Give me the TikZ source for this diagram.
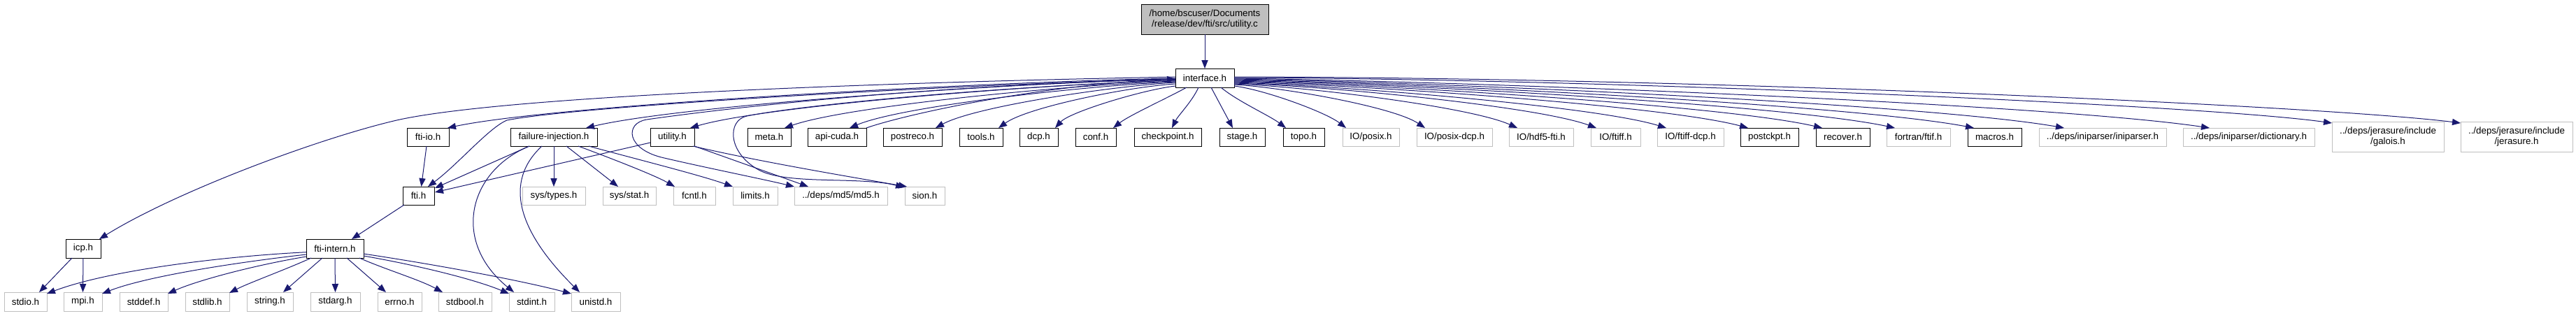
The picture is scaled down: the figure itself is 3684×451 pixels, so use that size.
\documentclass[tikz,border=0pt]{standalone}
\usepackage{fontspec}
\setmainfont{Liberation Sans}
\usetikzlibrary{calc,arrows.meta}
\definecolor{edgec}{HTML}{191970}
\definecolor{gline}{HTML}{BFBFBF}
\definecolor{gfill}{HTML}{BFBFBF}
\tikzset{
  lbl/.style={font=\fontsize{6.67pt}{7.9pt}\selectfont, align=center, inner sep=0pt, outer sep=0pt},
  box/.style={lbl, draw=black, fill=white, line width=0.5pt},
  gbox/.style={lbl, draw=gline, fill=white, line width=0.5pt},
  topbox/.style={lbl, draw=black, fill=gfill, line width=0.5pt},
  dep/.style={draw=edgec, line width=0.5pt, -{Triangle[length=6pt,width=4.6pt]}},
}
\newcommand\nd[7]{\node[#6, minimum width={(#3-#2)*0.5pt}, minimum height={(#5-#4)*0.5pt}] (#1) at ({(#2+#3)/2},{(#4+#5)/2}) {#7};}
\begin{document}
\begin{tikzpicture}[x=0.5pt,y=-0.5pt]
\useasboundingbox (0,0) rectangle (3684,451);
% ---------- nodes ----------
\nd{utilc}{1632}{1814}{6}{49}{topbox}{/home/bscuser/Documents\\/release/dev/fti/src/utility.c}
\nd{iface}{1681}{1765}{98}{125}{box}{interface.h}
% row 2
\nd{ftiio}{582}{642}{183}{209}{box}{fti-io.h}
\nd{failinj}{730}{854}{183}{209}{box}{failure-injection.h}
\nd{utilh}{930}{993}{183}{209}{box}{utility.h}
\nd{meta}{1069}{1131}{183}{209}{box}{meta.h}
\nd{apicuda}{1155}{1239}{183}{209}{box}{api-cuda.h}
\nd{postreco}{1263}{1347}{183}{209}{box}{postreco.h}
\nd{tools}{1372}{1434}{183}{209}{box}{tools.h}
\nd{dcp}{1458}{1513}{183}{209}{box}{dcp.h}
\nd{conf}{1538}{1596}{183}{209}{box}{conf.h}
\nd{checkpoint}{1622}{1718}{183}{209}{box}{checkpoint.h}
\nd{stage}{1744}{1809}{183}{209}{box}{stage.h}
\nd{topo}{1835}{1894}{183}{209}{box}{topo.h}
\nd{posix}{1920}{2001}{183}{209}{gbox}{IO/posix.h}
\nd{posixdcp}{2026}{2134}{183}{209}{gbox}{IO/posix-dcp.h}
\nd{hdf5}{2158}{2250}{183}{209}{gbox}{IO/hdf5-fti.h}
\nd{ftiff}{2275}{2346}{183}{209}{gbox}{IO/ftiff.h}
\nd{ftiffdcp}{2370}{2465}{183}{209}{gbox}{IO/ftiff-dcp.h}
\nd{postckpt}{2489}{2572}{183}{209}{box}{postckpt.h}
\nd{recover}{2597}{2674}{183}{209}{box}{recover.h}
\nd{fortran}{2698}{2789}{183}{209}{gbox}{fortran/ftif.h}
\nd{macros}{2814}{2891}{183}{209}{box}{macros.h}
\nd{iniparser}{2916}{3098}{183}{209}{gbox}{../deps/iniparser/iniparser.h}
\nd{dictionary}{3122}{3310}{183}{209}{gbox}{../deps/iniparser/dictionary.h}
\nd{galois}{3335}{3495}{174}{217}{gbox}{../deps/jerasure/include\\/galois.h}
\nd{jerasure}{3519}{3679}{174}{217}{gbox}{../deps/jerasure/include\\/jerasure.h}
% row 3
\nd{fti}{576}{621}{267}{293}{box}{fti.h}
\nd{systypes}{747}{837}{267}{293}{gbox}{sys/types.h}
\nd{sysstat}{862}{938}{267}{293}{gbox}{sys/stat.h}
\nd{fcntl}{963}{1023}{267}{293}{gbox}{fcntl.h}
\nd{limits}{1048}{1112}{267}{293}{gbox}{limits.h}
\nd{md5}{1136}{1269}{267}{293}{gbox}{../deps/md5/md5.h}
\nd{sion}{1294}{1351}{267}{293}{gbox}{sion.h}
% row 4
\nd{icp}{94}{144}{342}{369}{box}{icp.h}
\nd{ftiintern}{438}{520}{342}{369}{box}{fti-intern.h}
% row 5
\nd{stdio}{6}{67}{418}{445}{gbox}{stdio.h}
\nd{mpi}{91}{146}{418}{445}{gbox}{mpi.h}
\nd{stddef}{171}{240}{418}{445}{gbox}{stddef.h}
\nd{stdlib}{265}{328}{418}{445}{gbox}{stdlib.h}
\nd{string}{353}{419}{418}{445}{gbox}{string.h}
\nd{stdarg}{444}{515}{418}{445}{gbox}{stdarg.h}
\nd{errno}{540}{603}{418}{445}{gbox}{errno.h}
\nd{stdbool}{627}{703}{418}{445}{gbox}{stdbool.h}
\nd{stdint}{728}{793}{418}{445}{gbox}{stdint.h}
\nd{unistd}{817}{887}{418}{445}{gbox}{unistd.h}
% ---------- edges ----------
\draw[dep] (utilc.south) -- (iface.north);
% left fan from interface.h
\draw[dep] ($(iface.west)+(0,-1.5)$) .. controls (1200,119) and (700,140) .. (563,173)
   .. controls (450,200) and (250,275) .. ($(icp.north east)+(-2,0)$);
\draw[dep] ($(iface.west)+(0,0.5)$) .. controls (1410,117) and (795,150) .. ($(ftiio.north east)+(-2,0)$);
\draw[dep] ($(iface.west)+(0,1)$) .. controls (1300,124) and (820,153) .. (725,172)
   .. controls (700,182) and (655,235) .. ($(fti.north east)+(-9,0)$);
\draw[dep] ($(iface.west)+(0,1.5)$) .. controls (1462,118) and (977,150) .. ($(failinj.north east)+(-16,0)$);
\draw[dep] ($(iface.west)+(0,2)$) .. controls (1300,122) and (1000,160) .. (925,171)
   .. controls (893,176) and (895,214) .. (950,226)
   .. controls (1010,240) and (1090,256) .. (md5.north west);
\draw[dep] ($(iface.west)+(0,3)$) .. controls (1350,128) and (1120,155) .. (1068,166)
   .. controls (1040,172) and (1040,218) .. (1085,243)
   .. controls (1125,265) and (1230,252) .. ($(sion.north west)+(-1,1)$);
\draw[dep] ($(iface.west)+(0,3.5)$) .. controls (1501,120) and (1101,150) .. ($(utilh.north east)+(-6,0)$);
\draw[dep] ($(iface.west)+(0,4.5)$) .. controls (1536,121) and (1214,151) .. ($(meta.north east)+(-9,0)$);
\draw[dep] ($(iface.west)+(0,5.5)$) .. controls (1560,122) and (1292,151) .. ($(apicuda.north east)+(-24,0)$);
\draw[dep] (apicuda.north east) .. controls (1290,165) and (1480,122) .. ($(iface.west)+(0,1.5)$);
\draw[dep] ($(iface.west)+(0,6.5)$) .. controls (1592,123) and (1395,152) .. ($(postreco.north east)+(-9,0)$);
\draw[dep] ($(iface.west)+(0,8.5)$) .. controls (1615,124) and (1470,153) .. ($(tools.north east)+(-6,0)$);
\draw[dep] ($(iface.south west)+(0,-2)$) .. controls (1636,128) and (1530,160) .. ($(dcp.north east)+(-4,0)$);
\draw[dep] ($(iface.south west)+(16,0)$) .. controls (1670,140) and (1615,165) .. ($(conf.north east)+(-4,0)$);
\draw[dep] ($(iface.south west)+(33,0)$) .. controls (1705,145) and (1685,165) .. ($(checkpoint.north east)+(-42,0)$);
\draw[dep] ($(iface.south west)+(51,0)$) -- ($(stage.north west)+(19,0)$);
\draw[dep] ($(iface.south east)+(-19,0)$) .. controls (1770,145) and (1815,165) .. ($(topo.north west)+(4,0)$);
% right fan
\draw[dep] ($(iface.south east)+(0,-2)$) .. controls (1807,128) and (1895,160) .. ($(posix.north west)+(5,0)$);
\draw[dep] ($(iface.east)+(0,9.5)$) .. controls (1836,125) and (1993,153) .. ($(posixdcp.north west)+(12,0)$);
\draw[dep] ($(iface.east)+(0,8.5)$) .. controls (1870,124) and (2103,153) .. ($(hdf5.north west)+(12,0)$);
\draw[dep] ($(iface.east)+(0,7.5)$) .. controls (1900,123) and (2198,152) .. ($(ftiff.north west)+(8,0)$);
\draw[dep] ($(iface.east)+(0,6.5)$) .. controls (1926,123) and (2281,152) .. ($(ftiffdcp.north west)+(13,0)$);
\draw[dep] ($(iface.east)+(0,5.5)$) .. controls (1956,122) and (2379,151) .. ($(postckpt.north west)+(11,0)$);
\draw[dep] ($(iface.east)+(0,4.5)$) .. controls (1984,121) and (2467,151) .. ($(recover.north west)+(9,0)$);
\draw[dep] ($(iface.east)+(0,3.5)$) .. controls (2011,120) and (2554,150) .. ($(fortran.north west)+(12,0)$);
\draw[dep] ($(iface.east)+(0,2.5)$) .. controls (2040,119) and (2648,150) .. ($(macros.north west)+(9,0)$);
\draw[dep] ($(iface.east)+(0,1.5)$) .. controls (2074,118) and (2756,149) .. ($(iniparser.north west)+(36,0)$);
\draw[dep] ($(iface.east)+(0,0.5)$) .. controls (2128,117) and (2930,149) .. ($(dictionary.north west)+(38,0)$);
\draw[dep] ($(iface.east)+(0,-0.5)$) .. controls (2300,113) and (3150,150) .. ($(galois.north west)+(0,2)$);
\draw[dep] ($(iface.east)+(0,-1.5)$) .. controls (2450,111) and (3330,152) .. ($(jerasure.north west)+(0,2)$);
% second level
\draw[dep] ($(ftiio.south)+(-2,0)$) -- ($(fti.north)+(4,0)$);
\draw[dep] ($(failinj.south west)+(27,0)$) -- ($(fti.north east)+(1,2)$);
\draw[dep] ($(utilh.west)+(0,8)$) -- ($(fti.east)+(1,-5)$);
\draw[dep] (failinj.south) -- (systypes.north);
\draw[dep] ($(failinj.south)+(18,0)$) -- ($(sysstat.north west)+(22,0)$);
\draw[dep] ($(failinj.south)+(35,0)$) .. controls (870,225) and (935,250) .. ($(fcntl.north west)+(2,0)$);
\draw[dep] ($(failinj.south east)+(-12,0)$) .. controls (900,225) and (1000,250) .. (limits.north west);
\draw[dep] ($(failinj.south west)+(27,0)$) .. controls (670,245) and (645,345) .. ($(stdint.north west)+(7,0)$);
\draw[dep] ($(failinj.south west)+(45,0)$) .. controls (720,260) and (740,330) .. ($(unistd.north west)+(12,0)$);
\draw[dep] (utilh.south east) -- ($(md5.north west)+(20,0)$);
\draw[dep] ($(utilh.south east)+(-2,0)$) .. controls (1080,230) and (1210,252) .. ($(sion.north west)+(3,0)$);
\draw[dep] ($(fti.south west)+(2,0)$) -- ($(ftiintern.north east)+(-17,0)$);
% third level
\draw[dep] ($(icp.south west)+(9,0)$) -- ($(stdio.north east)+(-11,0)$);
\draw[dep] (icp.south) -- (mpi.north);
\draw[dep] ($(ftiintern.west)+(0,5.2)$) .. controls (330,366) and (160,385) .. ($(stdio.north east)+(0,2)$);
\draw[dep] ($(ftiintern.west)+(0,8.5)$) .. controls (340,375) and (210,395) .. ($(mpi.north east)+(0,2)$);
\draw[dep] ($(ftiintern.west)+(0,11.5)$) .. controls (360,380) and (280,402) .. ($(stddef.north east)+(0,2)$);
\draw[dep] ($(ftiintern.south west)+(7,0)$) .. controls (410,385) and (355,405) .. ($(stdlib.north east)+(0,1)$);
\draw[dep] ($(ftiintern.south west)+(23,0)$) -- ($(string.north east)+(-14,0)$);
\draw[dep] (ftiintern.south) -- (stdarg.north);
\draw[dep] ($(ftiintern.south)+(17,0)$) -- ($(errno.north west)+(12,0)$);
\draw[dep] ($(ftiintern.south east)+(-6,0)$) .. controls (550,385) and (600,400) .. ($(stdbool.north west)+(6,0)$);
\draw[dep] ($(ftiintern.east)+(0,10.5)$) .. controls (600,380) and (680,400) .. ($(stdint.north west)+(0,2)$);
\draw[dep] ($(ftiintern.east)+(0,7.5)$) .. controls (620,378) and (740,400) .. ($(unistd.north west)+(0,2)$);
\end{tikzpicture}
\end{document}
